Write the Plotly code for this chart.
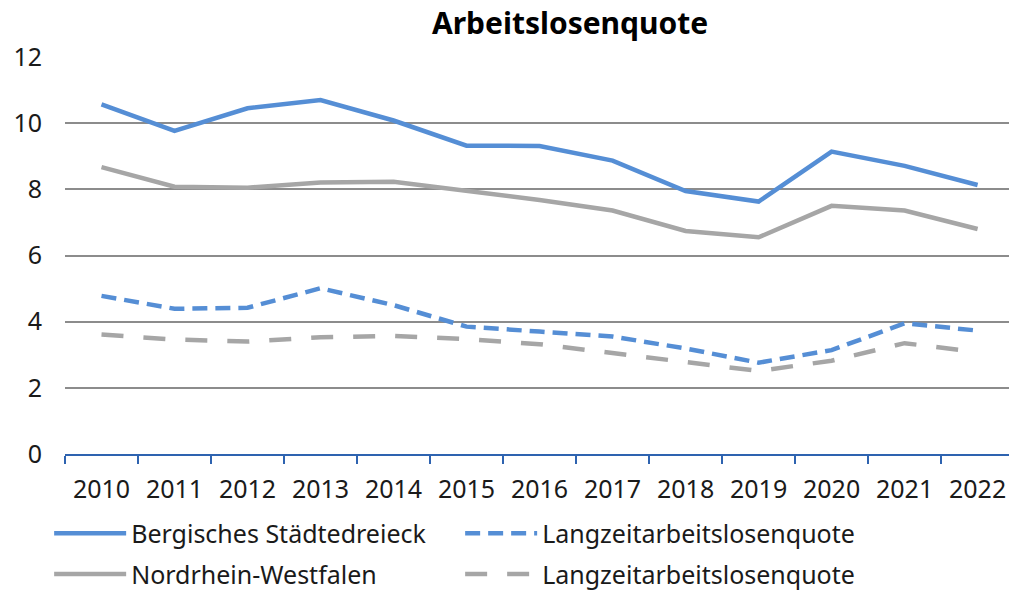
import plotly.graph_objects as go

years = ["2010", "2011", "2012", "2013", "2014", "2015", "2016", "2017", "2018", "2019", "2020", "2021", "2022"]
bergisch_alq = [10.57, 9.77, 10.45, 10.70, 10.08, 9.32, 9.31, 8.87, 7.95, 7.63, 9.14, 8.71, 8.13]
bergisch_lzq = [4.78, 4.39, 4.42, 5.01, 4.50, 3.85, 3.70, 3.55, 3.19, 2.76, 3.14, 3.95, 3.73]
nrw_alq = [8.67, 8.08, 8.05, 8.21, 8.23, 7.96, 7.68, 7.36, 6.74, 6.55, 7.50, 7.36, 6.80]
nrw_lzq = [3.61, 3.46, 3.40, 3.53, 3.57, 3.47, 3.32, 3.04, 2.79, 2.51, 2.82, 3.35, 3.08]

BLUE = "#558ED5"
GRAY = "#A6A6A6"
FONT = "Noto Sans"
TXT = "#1a1a1a"

fig = go.Figure()
fig.add_trace(go.Scatter(x=years, y=bergisch_alq, mode="lines", name="Bergisches Städtedreieck",
                         line=dict(color=BLUE, width=4.5), legend="legend"))
fig.add_trace(go.Scatter(x=years, y=bergisch_lzq, mode="lines", name="Langzeitarbeitslosenquote",
                         line=dict(color=BLUE, width=4.5, dash="15px,8px"), legend="legend"))
fig.add_trace(go.Scatter(x=years, y=nrw_alq, mode="lines", name="Nordrhein-Westfalen",
                         line=dict(color=GRAY, width=4.5), legend="legend2"))
fig.add_trace(go.Scatter(x=years, y=nrw_lzq, mode="lines", name="Langzeitarbeitslosenquote",
                         line=dict(color=GRAY, width=4.5, dash="22px,20px"), legend="legend2"))

leg_common = dict(orientation="h", x=-0.0168, xanchor="left", yanchor="middle",
                  entrywidth=324, entrywidthmode="pixels", itemwidth=72,
                  font=dict(family=FONT, size=25, color=TXT),
                  traceorder="normal", bgcolor="rgba(0,0,0,0)")

fig.update_layout(
    width=1009, height=593,
    margin=dict(l=65, r=0, t=57, b=139, autoexpand=False),
    paper_bgcolor="white", plot_bgcolor="white",
    font=dict(family=FONT, size=25, color=TXT),
    title=dict(text="<b>Arbeitslosenquote</b>", x=0.565, xanchor="center", xref="container",
               y=0.961, yanchor="middle", yref="container",
               font=dict(family=FONT, size=30, color="#000000")),
    showlegend=True,
    legend=dict(leg_common, y=-0.200),
    legend2=dict(leg_common, y=-0.303),
    xaxis=dict(type="category", range=[-0.5, 12.43], showgrid=False, showline=True,
               linecolor="#2E63B0", linewidth=2, ticks="outside", tickson="boundaries",
               ticklen=8, tickwidth=2, tickcolor="#2E63B0", ticklabelstandoff=12,
               tickfont=dict(family=FONT, size=25, color=TXT), fixedrange=True, automargin=False),
    yaxis=dict(range=[0, 12], dtick=2, tick0=0, showgrid=True, gridcolor="#8C8C8C", gridwidth=1.5,
               zeroline=False, showline=False, ticks="", ticklabelstandoff=22,
               tickfont=dict(family=FONT, size=25, color=TXT), fixedrange=True, automargin=False),
)

fig.write_html("out.html", config={"displayModeBar": False},
               post_script="document.body.style.margin='0';document.body.style.padding='0';")
